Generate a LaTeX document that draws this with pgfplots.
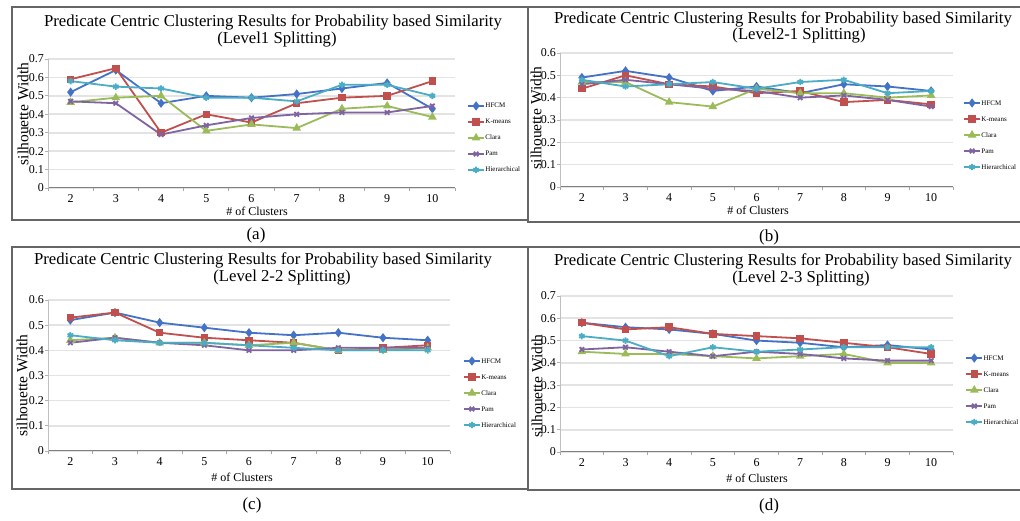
\documentclass[border=0pt]{standalone}
\usepackage{pgfplots}
\pgfplotsset{compat=1.18}
\usepackage{fontspec}
\setmainfont{Liberation Serif}
\definecolor{cH}{RGB}{68,114,196}
\definecolor{cK}{RGB}{192,80,77}
\definecolor{cC}{RGB}{155,187,89}
\definecolor{cP}{RGB}{128,100,162}
\definecolor{cR}{RGB}{75,172,198}
\pgfplotsset{
  panel/.style={
    scale only axis, anchor=south west,
    xmin=1.5, xmax=10.5, ymin=0,
    xtick={2,...,10}, minor xtick={1.5,2.5,...,10.5},
    ytick distance=0.1,
    axis x line*=bottom, axis y line*=left,
    x axis line style={-, gray, line width=1pt},
    y axis line style={-, gray!50, line width=1pt},
    ymajorgrids, grid style={line width=1.6pt, color=gray!22},
    tick align=outside, major tick length=3pt, minor tick length=3pt,
    major x tick style={draw=none},
    minor x tick style={gray!70, line width=0.8pt},
    major y tick style={gray!60, line width=0.8pt},
    /pgf/number format/assume math mode=true,
    tick label style={font=\fontsize{12}{13}\selectfont},
    yticklabel style={/pgf/number format/fixed, /pgf/number format/precision=1, inner sep=1pt},
    every axis plot/.append style={line width=1.8pt},
    legend cell align=left,
    legend image code/.code={\draw[mark repeat=2,mark phase=2,#1] plot coordinates {(0pt,0pt) (8pt,0pt) (16pt,0pt)};},
    legend style={draw=none, fill=none, inner sep=0pt, anchor=west, row sep=9pt,
      nodes={font=\fontsize{7}{8}\selectfont, inner sep=0.5pt, text height=5pt, text depth=1pt},
      /tikz/every even column/.append style={column sep=0pt}},
  },
  sH/.style={color=cH, mark=diamond*, mark size=3.2pt, mark options={solid}},
  sK/.style={color=cK, mark=square*, mark size=2.8pt, mark options={solid}},
  sC/.style={color=cC, mark=triangle*, mark size=3.2pt, mark options={solid}},
  sP/.style={color=cP, mark=x, mark size=3.2pt, mark options={solid}},
  sR/.style={color=cR, mark=asterisk, mark size=3.2pt, mark options={solid}},
}
\newcommand{\ttl}{\fontsize{16.7}{18}\selectfont}
\newcommand{\ylab}{\fontsize{15.5}{17}\selectfont}
\newcommand{\xlab}{\fontsize{12}{13}\selectfont}
\newcommand{\capf}{\fontsize{17}{18}\selectfont}
\begin{document}
\begin{tikzpicture}[x=1pt,y=1pt]
\useasboundingbox (0,0) rectangle (1020,521);
% frames
\begin{scope}[line width=1.6pt, color=black!60]
\draw (12,521-7) rectangle (528,521-220);
\draw (528,521-7) rectangle (1030,521-222);
\draw (12,521-247) rectangle (528,521-489);
\draw (528,521-247) rectangle (1030,521-490);
\end{scope}

% (a)
\begin{axis}[panel, at={(48pt,333pt)}, width=407pt, height=129pt, ymax=0.7,
  legend style={at={(1.0295,0.388)}}]
\addplot[sH] coordinates {(2,0.52) (3,0.64) (4,0.46) (5,0.50) (6,0.49) (7,0.51) (8,0.54) (9,0.57) (10,0.43)};
\addplot[sK] coordinates {(2,0.59) (3,0.65) (4,0.30) (5,0.40) (6,0.355) (7,0.46) (8,0.49) (9,0.50) (10,0.58)};
\addplot[sC] coordinates {(2,0.465) (3,0.49) (4,0.50) (5,0.31) (6,0.345) (7,0.325) (8,0.43) (9,0.445) (10,0.385)};
\addplot[sP] coordinates {(2,0.47) (3,0.46) (4,0.29) (5,0.34) (6,0.38) (7,0.40) (8,0.41) (9,0.41) (10,0.445)};
\addplot[sR] coordinates {(2,0.58) (3,0.55) (4,0.54) (5,0.49) (6,0.49) (7,0.47) (8,0.56) (9,0.56) (10,0.50)};
\legend{HFCM,K-means,Clara,Pam,Hierarchical}
\end{axis}

% (b)
\begin{axis}[panel, at={(560pt,334pt)}, width=393pt, height=134pt, ymax=0.6,
  legend style={at={(1.0254,0.388)}}]
\addplot[sH] coordinates {(2,0.49) (3,0.52) (4,0.49) (5,0.43) (6,0.45) (7,0.42) (8,0.46) (9,0.45) (10,0.43)};
\addplot[sK] coordinates {(2,0.44) (3,0.50) (4,0.46) (5,0.45) (6,0.42) (7,0.43) (8,0.38) (9,0.39) (10,0.37)};
\addplot[sC] coordinates {(2,0.47) (3,0.47) (4,0.38) (5,0.36) (6,0.44) (7,0.42) (8,0.42) (9,0.40) (10,0.41)};
\addplot[sP] coordinates {(2,0.46) (3,0.48) (4,0.46) (5,0.44) (6,0.43) (7,0.40) (8,0.41) (9,0.39) (10,0.36)};
\addplot[sR] coordinates {(2,0.48) (3,0.45) (4,0.46) (5,0.47) (6,0.44) (7,0.47) (8,0.48) (9,0.42) (10,0.43)};
\legend{HFCM,K-means,Clara,Pam,Hierarchical}
\end{axis}

% (c)
\begin{axis}[panel, at={(48pt,70pt)}, width=402pt, height=151pt, ymax=0.6,
  legend style={at={(1.032,0.384)}}]
\addplot[sH] coordinates {(2,0.52) (3,0.55) (4,0.51) (5,0.49) (6,0.47) (7,0.46) (8,0.47) (9,0.45) (10,0.44)};
\addplot[sK] coordinates {(2,0.53) (3,0.55) (4,0.47) (5,0.45) (6,0.44) (7,0.43) (8,0.40) (9,0.41) (10,0.42)};
\addplot[sC] coordinates {(2,0.44) (3,0.45) (4,0.43) (5,0.43) (6,0.42) (7,0.43) (8,0.40) (9,0.40) (10,0.41)};
\addplot[sP] coordinates {(2,0.43) (3,0.45) (4,0.43) (5,0.42) (6,0.40) (7,0.40) (8,0.41) (9,0.41) (10,0.41)};
\addplot[sR] coordinates {(2,0.46) (3,0.44) (4,0.43) (5,0.43) (6,0.42) (7,0.41) (8,0.40) (9,0.40) (10,0.40)};
\legend{HFCM,K-means,Clara,Pam,Hierarchical}
\end{axis}

% (d)
\begin{axis}[panel, at={(560pt,69pt)}, width=393pt, height=156pt, ymax=0.7,
  legend style={at={(1.031,0.397)}}]
\addplot[sH] coordinates {(2,0.58) (3,0.56) (4,0.55) (5,0.53) (6,0.50) (7,0.49) (8,0.47) (9,0.48) (10,0.46)};
\addplot[sK] coordinates {(2,0.58) (3,0.55) (4,0.56) (5,0.53) (6,0.52) (7,0.51) (8,0.49) (9,0.47) (10,0.44)};
\addplot[sC] coordinates {(2,0.45) (3,0.44) (4,0.44) (5,0.43) (6,0.42) (7,0.43) (8,0.44) (9,0.40) (10,0.40)};
\addplot[sP] coordinates {(2,0.46) (3,0.47) (4,0.45) (5,0.43) (6,0.45) (7,0.44) (8,0.42) (9,0.41) (10,0.41)};
\addplot[sR] coordinates {(2,0.52) (3,0.50) (4,0.43) (5,0.47) (6,0.45) (7,0.46) (8,0.47) (9,0.47) (10,0.47)};
\legend{HFCM,K-means,Clara,Pam,Hierarchical}
\end{axis}

% titles
\node[anchor=base, inner sep=0pt, font=\ttl] at (273,521-27) {Predicate Centric Clustering Results for Probability based Similarity};
\node[anchor=base, inner sep=0pt, font=\ttl] at (277,521-43.5) {(Level1 Splitting)};
\node[anchor=base, inner sep=0pt, font=\ttl] at (783,521-24) {Predicate Centric Clustering Results for Probability based Similarity};
\node[anchor=base, inner sep=0pt, font=\ttl] at (799,521-39.5) {(Level2-1 Splitting)};
\node[anchor=base, inner sep=0pt, font=\ttl] at (263,521-265) {Predicate Centric Clustering Results for Probability based Similarity};
\node[anchor=base, inner sep=0pt, font=\ttl] at (282,521-281.5) {(Level 2-2 Splitting)};
\node[anchor=base, inner sep=0pt, font=\ttl] at (783,521-266) {Predicate Centric Clustering Results for Probability based Similarity};
\node[anchor=base, inner sep=0pt, font=\ttl] at (801,521-282.5) {(Level 2-3 Splitting)};
% y labels
\node[rotate=90, inner sep=0pt, font=\ylab] at (23,521-114) {silhouette Width};
\node[rotate=90, inner sep=0pt, font=\ylab] at (536,521-118) {silhouette Width};
\node[rotate=90, inner sep=0pt, font=\ylab] at (22,521-385.5) {silhouette Width};
\node[rotate=90, inner sep=0pt, font=\ylab] at (537,521-386) {silhouette Width};
% x labels
\node[anchor=base, inner sep=0pt, font=\xlab] at (257,521-216) {\# of Clusters};
\node[anchor=base, inner sep=0pt, font=\xlab] at (758,521-215) {\# of Clusters};
\node[anchor=base, inner sep=0pt, font=\xlab] at (242,521-482) {\# of Clusters};
\node[anchor=base, inner sep=0pt, font=\xlab] at (757,521-483) {\# of Clusters};
% captions
\node[inner sep=0pt, font=\capf] at (256,521-235.5) {(a)};
\node[inner sep=0pt, font=\capf] at (769,521-237.5) {(b)};
\node[inner sep=0pt, font=\capf] at (252,521-505.5) {(c)};
\node[inner sep=0pt, font=\capf] at (769,521-506.5) {(d)};
\end{tikzpicture}
\end{document}
